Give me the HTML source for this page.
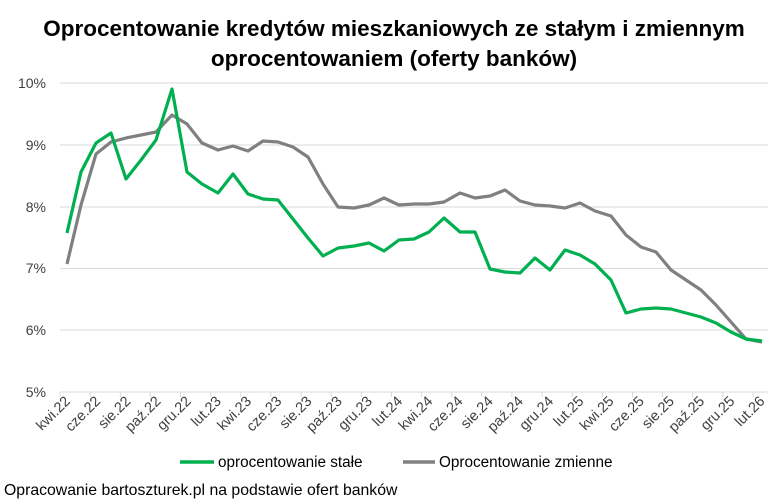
<!DOCTYPE html>
<html><head><meta charset="utf-8"><style>
html,body{margin:0;padding:0;background:#fff;}
svg{display:block;font-family:"Liberation Sans",Arial,sans-serif;}
</style></head><body>
<svg width="781" height="504" viewBox="0 0 781 504" xmlns="http://www.w3.org/2000/svg">
<rect width="781" height="504" fill="#fff"/>
<text x="394" y="36" text-anchor="middle" font-size="22.5" font-weight="bold" fill="#000">Oprocentowanie kredytów mieszkaniowych ze stałym i zmiennym</text>
<text x="394" y="66" text-anchor="middle" font-size="22.5" font-weight="bold" fill="#000">oprocentowaniem (oferty banków)</text>
<g stroke="#d9d9d9" stroke-width="1">
<line x1="60" y1="83" x2="768" y2="83"/>
<line x1="60" y1="145" x2="768" y2="145"/>
<line x1="60" y1="207" x2="768" y2="207"/>
<line x1="60" y1="268.5" x2="768" y2="268.5"/>
<line x1="60" y1="330" x2="768" y2="330"/>
<line x1="60" y1="392" x2="768" y2="392"/>
</g>
<g font-size="14" fill="#404040" text-anchor="end">
<text x="46" y="88">10%</text><text x="46" y="150">9%</text><text x="46" y="212">8%</text><text x="46" y="273">7%</text><text x="46" y="335">6%</text><text x="46" y="397">5%</text>
</g>
<g stroke="#d9d9d9" stroke-width="1">
<path d="M60 392v5M90.1 392v5M120.3 392v5M150.4 392v5M180.5 392v5M210.7 392v5M240.8 392v5M270.9 392v5M301 392v5M331.2 392v5M361.3 392v5M391.4 392v5M421.6 392v5M451.7 392v5M481.8 392v5M511.9 392v5M542.1 392v5M572.2 392v5M602.3 392v5M632.5 392v5M662.6 392v5M692.7 392v5M722.9 392v5M753 392v5"/>
</g>
<g font-size="14.5" fill="#404040" text-anchor="end">
<text transform="translate(71,402) rotate(-45)">kwi.22</text>
<text transform="translate(101.2,402) rotate(-45)">cze.22</text>
<text transform="translate(131.4,402) rotate(-45)">sie.22</text>
<text transform="translate(161.6,402) rotate(-45)">paź.22</text>
<text transform="translate(191.8,402) rotate(-45)">gru.22</text>
<text transform="translate(222,402) rotate(-45)">lut.23</text>
<text transform="translate(252.2,402) rotate(-45)">kwi.23</text>
<text transform="translate(282.4,402) rotate(-45)">cze.23</text>
<text transform="translate(312.6,402) rotate(-45)">sie.23</text>
<text transform="translate(342.8,402) rotate(-45)">paź.23</text>
<text transform="translate(373,402) rotate(-45)">gru.23</text>
<text transform="translate(403.2,402) rotate(-45)">lut.24</text>
<text transform="translate(433.4,402) rotate(-45)">kwi.24</text>
<text transform="translate(463.6,402) rotate(-45)">cze.24</text>
<text transform="translate(493.8,402) rotate(-45)">sie.24</text>
<text transform="translate(524,402) rotate(-45)">paź.24</text>
<text transform="translate(554.2,402) rotate(-45)">gru.24</text>
<text transform="translate(584.4,402) rotate(-45)">lut.25</text>
<text transform="translate(614.6,402) rotate(-45)">kwi.25</text>
<text transform="translate(644.8,402) rotate(-45)">cze.25</text>
<text transform="translate(675,402) rotate(-45)">sie.25</text>
<text transform="translate(705.2,402) rotate(-45)">paź.25</text>
<text transform="translate(735.4,402) rotate(-45)">gru.25</text>
<text transform="translate(765.6,402) rotate(-45)">lut.26</text>
</g>
<polyline fill="none" stroke="#808080" stroke-width="3.2" stroke-linejoin="round" points="67,264 81,205 96,154 111,142 126,138 141,135 156,132 172,115 187,124 202,143 218,150 233,146 248,151 263,141 278,142 293,147 308,157 323,184 338,207 354,208 369,205 384,198 399,205 414,204 429,204 444,202 460,193 475,198 490,196 505,190 520,201 535,205 550,206 565,208 580,203 595,211 611,216 626,235 641,247 656,252 671,270 686,280 701,290 716,305 731,322 746,339 762,342"/>
<polyline fill="none" stroke="#00b050" stroke-width="3.2" stroke-linejoin="round" points="67,233 81,172 96,143 111,133 126,179 141,160 156,140 172,89 187,172 202,184 218,193 233,174 248,194 263,199 278,200 293,219 308,238 323,256 338,248 354,246 369,243 384,251 399,240 414,239 429,232 444,218 460,232 475,232 490,269 505,272 520,273 535,258 550,270 565,250 580,255 595,264 611,280 626,313 641,309 656,308 671,309 686,313 701,317 716,323 731,332 746,339 762,341"/>
<line x1="180" y1="462" x2="214" y2="462" stroke="#00b050" stroke-width="3.5"/>
<text x="218" y="467" font-size="15.3" fill="#000">oprocentowanie stałe</text>
<line x1="403" y1="462" x2="435" y2="462" stroke="#808080" stroke-width="3.5"/>
<text x="439" y="467" font-size="15.3" fill="#000">Oprocentowanie zmienne</text>
<text x="4" y="495" font-size="15.8" fill="#000">Opracowanie bartoszturek.pl na podstawie ofert banków</text>
</svg>
</body></html>
